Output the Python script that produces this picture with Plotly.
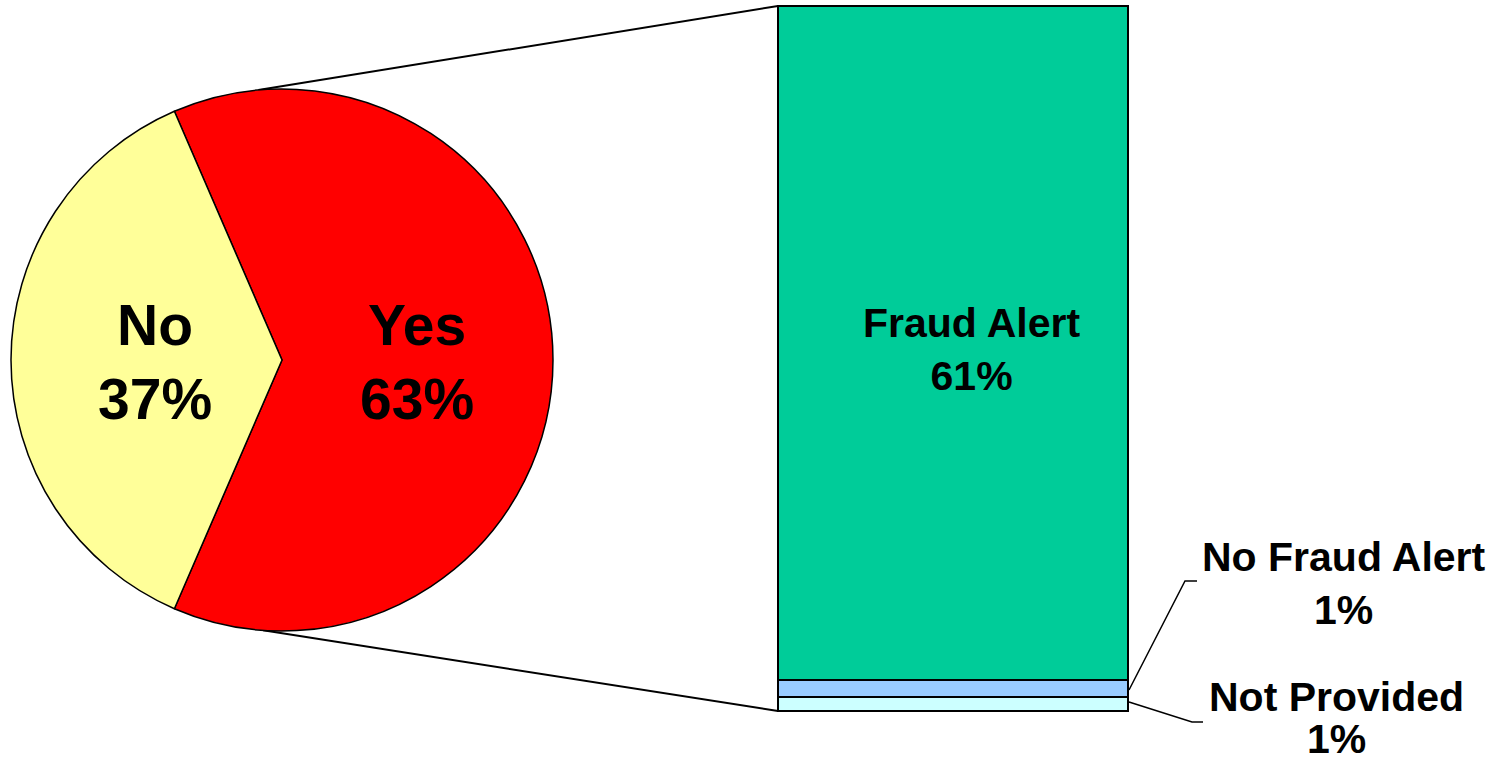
import math
import plotly.graph_objects as go

# ---- data ----
pie_labels = ["Yes", "No"]
pie_values = [63, 37]
pie_text = ["Yes<br>63%", "No<br>37%"]
pie_colors = ["#FF0000", "#FFFF99"]

bar_labels = ["Not Provided", "No Fraud Alert", "Fraud Alert"]
bar_values = [1.25, 1.5, 60.25]          # segment heights (share of total)
bar_pct = ["1%", "1%", "61%"]
bar_colors = ["#CCFFFF", "#99CCFF", "#00CC99"]

W, H = 1505, 763
FONT = "Arial, 'Liberation Sans', Helvetica, sans-serif"


def px(x):
    return x / W


def py(y):
    return 1 - y / H


# pie geometry (pixels)
pcx, pcy, pr = 282, 360, 271
pie_dom_x = [px(pcx - pr), px(pcx + pr)]
pie_dom_y = [py(pcy + pr), py(pcy - pr)]

# bar geometry (pixels) with a small padding so outlines are not clipped
bx0, bx1, by_top, by_bot = 778, 1128, 6, 711
pad = 4
total = sum(bar_values)
bar_dom_x = [px(bx0 - pad), px(bx1 + pad)]
bar_dom_y = [py(by_bot + pad), py(by_top - pad)]
xpad = pad / (bx1 - bx0)
ypad = pad * total / (by_bot - by_top)

# No slice centered on the left (270 deg); Yes starts where No ends
no_span = pie_values[1] / sum(pie_values) * 360
rotation = 270 + no_span / 2 - 360

fig = go.Figure()
fig.add_trace(go.Pie(
    labels=pie_labels, values=pie_values, sort=False, direction="clockwise",
    rotation=rotation, marker=dict(colors=pie_colors, line=dict(color="black", width=1.5)),
    textinfo="none", hoverinfo="skip", showlegend=False,
    domain=dict(x=pie_dom_x, y=pie_dom_y),
))

for lab, val, col in zip(bar_labels, bar_values, bar_colors):
    fig.add_trace(go.Bar(
        x=[0], y=[val], name=lab, width=1,
        marker=dict(color=col, line=dict(color="black", width=2)),
        hoverinfo="skip", showlegend=False, xaxis="x", yaxis="y",
    ))


def b(t):
    return "<b>" + t.replace("<br>", "</b><br><b>") + "</b>"


annotations = []
# pie labels at slice mid-angles
ang = rotation
for lab, val, txt in zip(pie_labels, pie_values, pie_text):
    span = val / sum(pie_values) * 360
    mid = math.radians(ang + span / 2)
    ang += span
    d = 0.485 * pr
    x = pcx + d * math.sin(mid) + 4
    y = pcy - d * math.cos(mid) + 2
    annotations.append(dict(x=px(x), y=py(y), xref="paper", yref="paper", text=b(txt), showarrow=False,
                            xanchor="center", yanchor="middle",
                            font=dict(family=FONT, size=57, color="black"), align="center"))

lab_font = dict(family=FONT, size=41, color="black")
# Fraud Alert label inside the bar
cum = bar_values[0] + bar_values[1]
annotations.append(dict(x=0.055, y=cum + bar_values[2] / 2 - 0.6, xref="x", yref="y",
                        text=b(bar_labels[2] + "<br>" + bar_pct[2]),
                        xanchor="center", yanchor="middle", showarrow=False, font=lab_font, align="center"))
# small segment labels outside
annotations.append(dict(x=px(1344), y=py(583), xref="paper", yref="paper",
                        text=b(bar_labels[1] + "<br>" + bar_pct[1]),
                        xanchor="center", yanchor="middle", showarrow=False, font=lab_font, align="center"))
annotations.append(dict(x=px(1336), y=py(697), xref="paper", yref="paper", text=b(bar_labels[0]),
                        xanchor="center", yanchor="middle", showarrow=False, font=lab_font, align="center"))
annotations.append(dict(x=px(1336), y=py(739), xref="paper", yref="paper", text=b(bar_pct[0]),
                        xanchor="center", yanchor="middle", showarrow=False, font=lab_font, align="center"))

# connector lines pie -> bar
t_ang = math.radians(-5)
top_pt = (pcx + pr * math.sin(t_ang), pcy - pr * math.cos(t_ang))
b_ang = math.radians(180 + 4)
bot_pt = (pcx + pr * math.sin(b_ang), pcy - pr * math.cos(b_ang))

shapes = [
    dict(type="line", xref="paper", yref="paper", x0=px(top_pt[0]), y0=py(top_pt[1]), x1=px(bx0), y1=py(by_top),
         line=dict(color="black", width=2), layer="below"),
    dict(type="line", xref="paper", yref="paper", x0=px(bot_pt[0]), y0=py(bot_pt[1]), x1=px(bx0), y1=py(by_bot),
         line=dict(color="black", width=2), layer="below"),
    dict(type="path", xref="paper", yref="paper",
         path=f"M {px(1129)},{py(690)} L {px(1185)},{py(581)} L {px(1197)},{py(581)}",
         line=dict(color="black", width=1.5)),
    dict(type="path", xref="paper", yref="paper",
         path=f"M {px(1129)},{py(702)} L {px(1192)},{py(722)} L {px(1203)},{py(722)}",
         line=dict(color="black", width=1.5)),
]

fig.update_layout(
    width=W, height=H, margin=dict(l=0, r=0, t=0, b=0),
    paper_bgcolor="white", plot_bgcolor="white",
    barmode="stack", bargap=0,
    xaxis=dict(domain=bar_dom_x, range=[-0.5 - xpad, 0.5 + xpad], visible=False, fixedrange=True),
    yaxis=dict(domain=bar_dom_y, range=[-ypad, total + ypad], visible=False, fixedrange=True),
    annotations=annotations, shapes=shapes,
    font=dict(family=FONT),
)

fig.write_html("out.html", config={"displayModeBar": False},
               post_script="document.body.style.margin='0';document.body.style.overflow='hidden';")
